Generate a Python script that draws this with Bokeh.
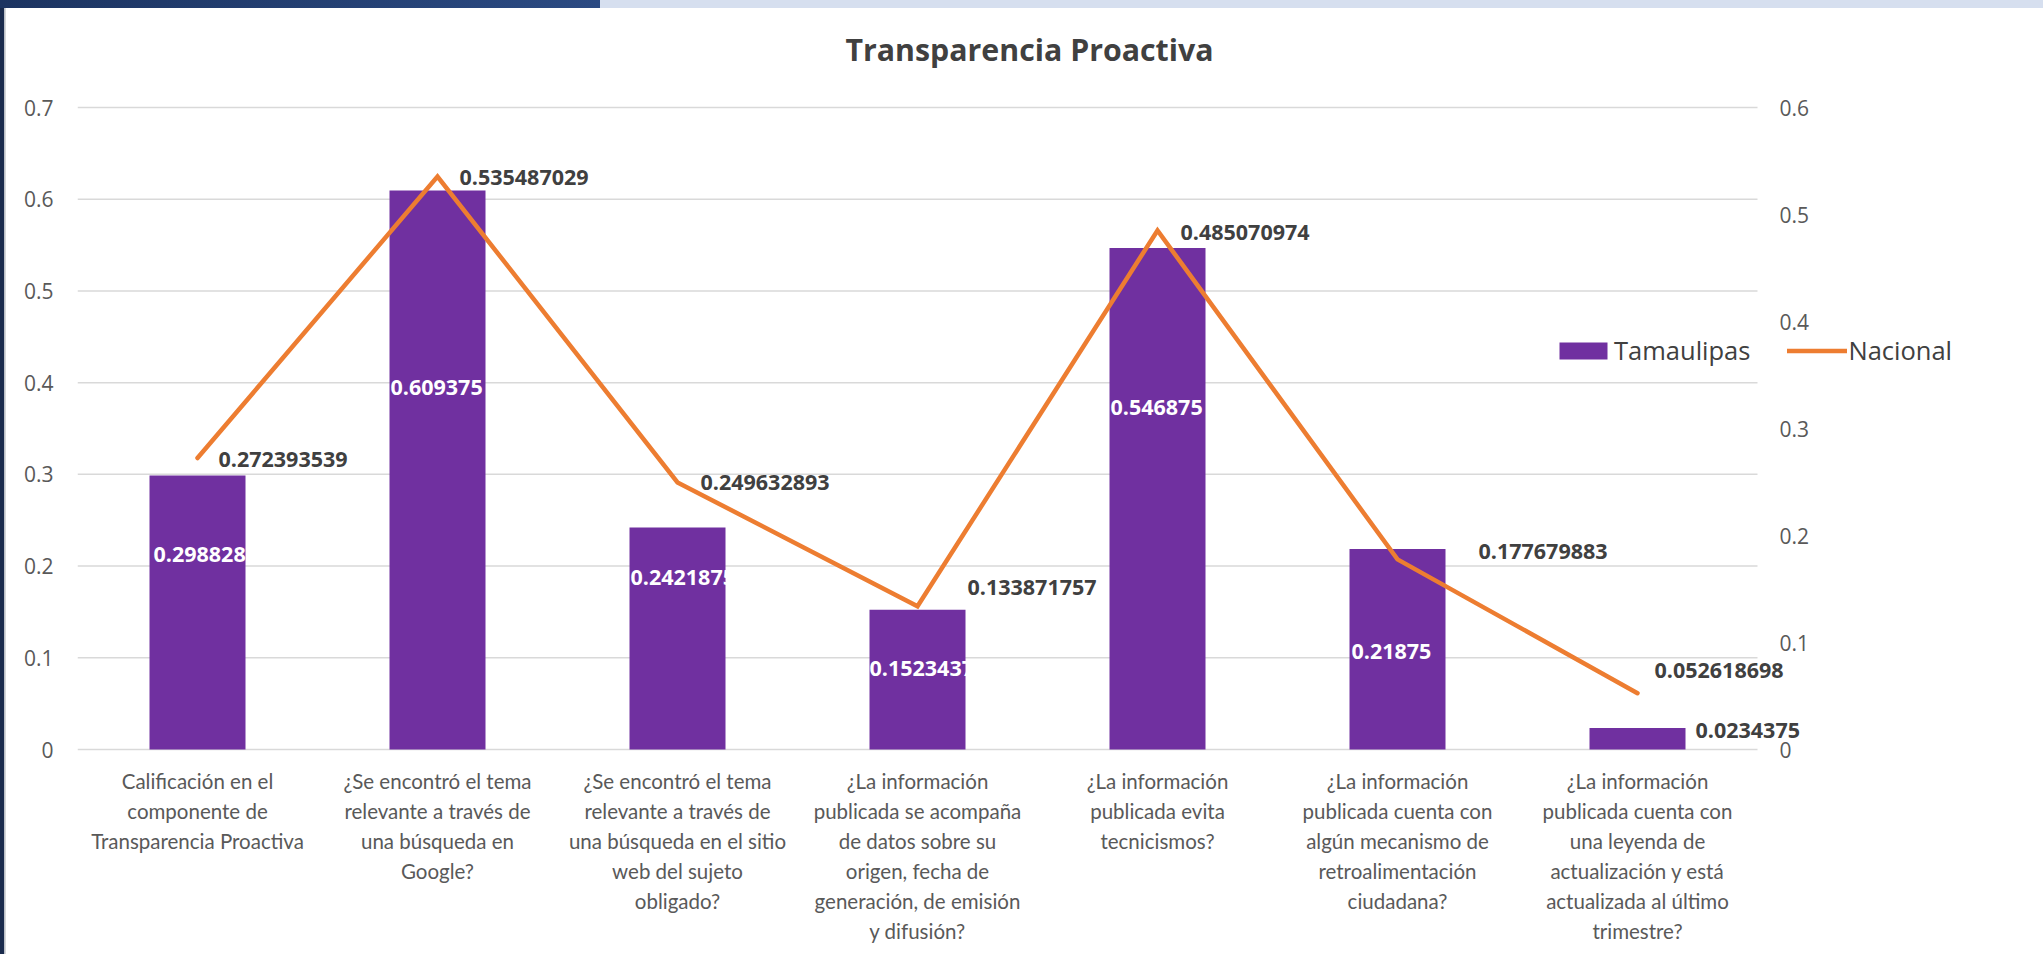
from bokeh.plotting import figure
from bokeh.layouts import column, row
from bokeh.models import (Range1d, LinearAxis, FixedTicker, LabelSet, Label, Div,
                          Legend, LegendItem, ColumnDataSource)
from bokeh.core.properties import value
from bokeh.embed import file_html
from bokeh.resources import INLINE

# ---------------- data ----------------
categories = [
    "Calificación en el\ncomponente de\nTransparencia Proactiva",
    "¿Se encontró el tema\nrelevante a través de\nuna búsqueda en\nGoogle?",
    "¿Se encontró el tema\nrelevante a través de\nuna búsqueda en el sitio\nweb del sujeto\nobligado?",
    "¿La información\npublicada se acompaña\nde datos sobre su\norigen, fecha de\ngeneración, de emisión\ny difusión?",
    "¿La información\npublicada evita\ntecnicismos?",
    "¿La información\npublicada cuenta con\nalgún mecanismo de\nretroalimentación\nciudadana?",
    "¿La información\npublicada cuenta con\nuna leyenda de\nactualización y está\nactualizada al último\ntrimestre?",
]
tamaulipas = [0.298828125, 0.609375, 0.2421875, 0.15234375, 0.546875, 0.21875, 0.0234375]
nacional = [0.272393539, 0.535487029, 0.249632893, 0.133871757, 0.485070974, 0.177679883, 0.052618698]

left_ticks = [0, 0.1, 0.2, 0.3, 0.4, 0.5, 0.6, 0.7]
left_tick_labels = ["0", "0.1", "0.2", "0.3", "0.4", "0.5", "0.6", "0.7"]
right_ticks = [0, 0.1, 0.2, 0.3, 0.4, 0.5, 0.6]
right_tick_labels = ["0", "0.1", "0.2", "0.3", "0.4", "0.5", "0.6"]

# ---------------- layout / styles (not data) ----------------
BAR_W = 0.4
PURPLE = "#7030A0"
ORANGE = "#ED7D31"
DARK = "#404040"
GREY = "#595959"
GRID = "#D9D9D9"
NUM_FONT = "Open Sans"
CAT_FONT = "Lato"

TOP_BAND = 8
LEFT_BAND = 6
W = 2043 - LEFT_BAND
H = 954 - TOP_BAND

n = len(categories)
LEFT_MAX = left_ticks[-1]
RIGHT_MAX = right_ticks[-1]
CAT_PX = 240                 # pixels per category
PLOT_H_PX = 642              # pixels from 0 to axis max
FRAME_L = 71                 # canvas px
FRAME_R = 1960
FRAME_T = 0
ZERO_Y = 741                 # canvas px of value 0
PAD_B = 14
FRAME_B = ZERO_Y + PAD_B

x_end = (FRAME_R - FRAME_L) / CAT_PX
l_px = PLOT_H_PX / LEFT_MAX
r_px = PLOT_H_PX / RIGHT_MAX

# label placement (pixel offsets / label heights)
nac_dx = [21, 22, 23, 50, 23, 81, 17]
nac_dy = [-1, -1, 0, 19, -2, 8, 23]
tam_label_y = [0.2127, 0.3948, 0.1876, 0.0883, 0.3724, 0.1069, 0.0207]
tam_inside = [True, True, True, True, True, True, False]
tam_dx = [4, 1, 1, 0, 1, 2, 10]

xs = [i + 0.5 for i in range(n)]
tam_anchor = [x - BAR_W / 2 if ins else x + BAR_W / 2 for x, ins in zip(xs, tam_inside)]
tam_color = ["white" if ins else DARK for ins in tam_inside]

src = ColumnDataSource(dict(
    x=xs, tam=tamaulipas, nac=nacional,
    nac_lbl=[str(v) for v in nacional],
    tam_lbl=[str(v) for v in tamaulipas],
    nac_dx=nac_dx, nac_dy=nac_dy,
    tam_ax=tam_anchor, tam_ly=tam_label_y, tam_dx=tam_dx, tam_col=tam_color,
))

p = figure(width=W, height=H, x_range=Range1d(0, x_end),
           y_range=Range1d(-PAD_B / l_px, (ZERO_Y - FRAME_T) / l_px),
           output_backend="svg", toolbar_location=None,
           min_border_left=FRAME_L, min_border_right=W - FRAME_R,
           min_border_top=FRAME_T, min_border_bottom=H - FRAME_B)
p.extra_y_ranges = {"right": Range1d(-PAD_B / r_px, (ZERO_Y - FRAME_T) / r_px)}
p.outline_line_color = None
p.background_fill_color = "white"
p.border_fill_color = "white"

# grid (drawn only across the category span)
p.xgrid.grid_line_color = None
p.ygrid.grid_line_color = None
p.segment(x0=[0] * len(left_ticks), x1=[n] * len(left_ticks), y0=left_ticks, y1=left_ticks,
          line_color=GRID, line_width=1.5)


def style_axis(ax, font, size, standoff):
    ax.major_label_text_font = font
    ax.major_label_text_font_size = size
    ax.major_label_text_color = GREY
    ax.major_label_standoff = standoff
    ax.axis_line_color = None
    ax.major_tick_line_color = None
    ax.minor_tick_line_color = None
    ax.major_tick_out = 0
    ax.major_tick_in = 0
    ax.minor_tick_out = 0
    ax.minor_tick_in = 0


# x axis
xa = p.xaxis[0]
xa.ticker = FixedTicker(ticks=xs)
xa.major_label_overrides = {x: c for x, c in zip(xs, categories)}
style_axis(xa, CAT_FONT, "20.5px", 5)
xa.major_label_text_line_height = 1.25

# left axis
ya = p.yaxis[0]
ya.ticker = FixedTicker(ticks=left_ticks)
ya.major_label_overrides = {t: s for t, s in zip(left_ticks, left_tick_labels)}
style_axis(ya, NUM_FONT, "21px", 24)

# right axis, pinned at the end of the category span
ra = LinearAxis(y_range_name="right", ticker=FixedTicker(ticks=right_ticks), fixed_location=n)
ra.major_label_overrides = {t: s for t, s in zip(right_ticks, right_tick_labels)}
style_axis(ra, NUM_FONT, "21px", 22)
p.add_layout(ra, "right")

# marks
bars = p.vbar(x="x", top="tam", width=BAR_W, source=src, fill_color=PURPLE, line_color=None)
line = p.line(x="x", y="nac", source=src, y_range_name="right", line_color=ORANGE,
              line_width=4.5, line_cap="round", line_join="miter")

# labels
tam_labels = LabelSet(x="tam_ax", y="tam_ly", text="tam_lbl", source=src, x_offset="tam_dx",
                      text_align="left", text_baseline="middle", text_color="tam_col",
                      text_font=value(NUM_FONT), text_font_style="bold", text_font_size="21.5px")
nac_labels = LabelSet(x="x", y="nac", text="nac_lbl", source=src, y_range_name="right",
                      x_offset="nac_dx", y_offset="nac_dy", text_align="left",
                      text_baseline="middle", text_color=DARK, text_font=value(NUM_FONT),
                      text_font_style="bold", text_font_size="21.5px")
p.add_layout(tam_labels)
p.add_layout(nac_labels)

# title
title = Label(x=(1029 - LEFT_BAND - FRAME_L) / CAT_PX, y=(ZERO_Y - (49 - TOP_BAND)) / l_px,
              text="Transparencia Proactiva", text_align="center",
              text_baseline="middle", text_font=NUM_FONT, text_font_style="bold",
              text_font_size="30.3px", text_color=DARK)
p.add_layout(title)

# legend
legend = Legend(items=[LegendItem(label="Tamaulipas", renderers=[bars]),
                       LegendItem(label="Nacional", renderers=[line])],
                orientation="horizontal", location=(1476, 396),
                glyph_width=60, glyph_height=21, label_standoff=1, spacing=37,
                padding=0, margin=0, border_line_color=None, background_fill_alpha=0,
                label_text_font=NUM_FONT, label_text_font_size="25.5px",
                label_text_color=DARK)
p.add_layout(legend)

# slide frame bands around the chart
top_band = Div(text="", width=2043, height=TOP_BAND, margin=0,
               styles={"background": "linear-gradient(to right, #1C3461 0px, #2B4A82 600px, #D6DFEF 600px, #D6DFEF 100%)"})
left_band = Div(text="", width=LEFT_BAND, height=H, margin=0,
                styles={"background": "linear-gradient(to right, #1A2B4D 0px, #1A2B4D 4px, #AEB4BE 4px, #E2E2E2 6px)"})

layout = column(top_band, row(left_band, p, spacing=0), spacing=0)

open("out.html", "w").write(file_html(layout, INLINE))
